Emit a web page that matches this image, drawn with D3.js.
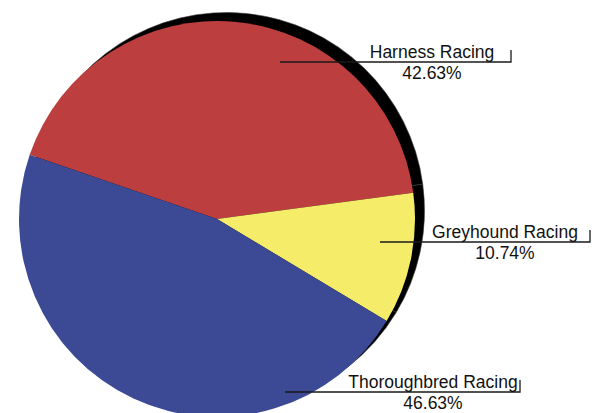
<!DOCTYPE html>
<html>
<head>
<meta charset="utf-8">
<script src="https://cdn.jsdelivr.net/npm/d3@7"></script>
<style>
  html, body { margin: 0; padding: 0; background: #ffffff; }
  svg { display: block; }
  text { font-family: "Liberation Sans", Arial, sans-serif; fill: #111; }
</style>
</head>
<body>
<svg id="chart" width="592" height="413"></svg>
<script>
// Share of wagering by racing type (percent)
const categories = ["Harness Racing", "Greyhound Racing", "Thoroughbred Racing"];
const shares = [42.63, 10.74, 46.63];
const percentLabels = ["42.63%", "10.74%", "46.63%"];
const sliceColors = ["#bd3e3f", "#f5ec6a", "#3c4a96"];

const width = 592, height = 413;
const cx = 217, cy = 219, radius = 198;
const shadowDx = 9.5, shadowDy = -8.5;
const startAngle = -71.1 * Math.PI / 180;

// Callout placement: where each leader starts, the row it runs along,
// the bracket at its end and the centre of the text block.
const callouts = [
  { x0: 280, y: 62,  x1: 511, textX: 432 },
  { x0: 380, y: 242, x1: 590, textX: 505 },
  { x0: 285, y: 392, x1: 520, textX: 433 }
];

const svg = d3.select("#chart");

const pie = d3.pie()
  .sort(null)
  .value(d => d)
  .startAngle(startAngle)
  .endAngle(startAngle + 2 * Math.PI);

const arcs = pie(shares);
const arc = d3.arc().innerRadius(0).outerRadius(radius);

// Offset black copy of the pie gives the raised edge
svg.append("g")
  .attr("transform", `translate(${cx + shadowDx},${cy + shadowDy})`)
  .selectAll("path")
  .data(arcs)
  .join("path")
  .attr("d", arc)
  .attr("fill", "#000")
  .attr("stroke", "#3a3a3a")
  .attr("stroke-width", 0.6);

svg.append("g")
  .attr("transform", `translate(${cx},${cy})`)
  .selectAll("path")
  .data(arcs)
  .join("path")
  .attr("d", arc)
  .attr("fill", (d, i) => sliceColors[i]);

// Callouts
const lab = svg.append("g");
callouts.forEach((c, i) => {
  lab.append("path")
    .attr("d", `M${c.x0},${c.y}H${c.x1}V${c.y - 12}`)
    .attr("fill", "none")
    .attr("stroke", "#1a1a1a")
    .attr("stroke-width", 1.3);
  lab.append("text")
    .attr("x", c.textX)
    .attr("y", c.y - 4)
    .attr("text-anchor", "middle")
    .attr("font-size", 17.5)
    .text(categories[i]);
  lab.append("text")
    .attr("x", c.textX)
    .attr("y", c.y + 17)
    .attr("text-anchor", "middle")
    .attr("font-size", 17.5)
    .text(percentLabels[i]);
});
</script>
</body>
</html>
